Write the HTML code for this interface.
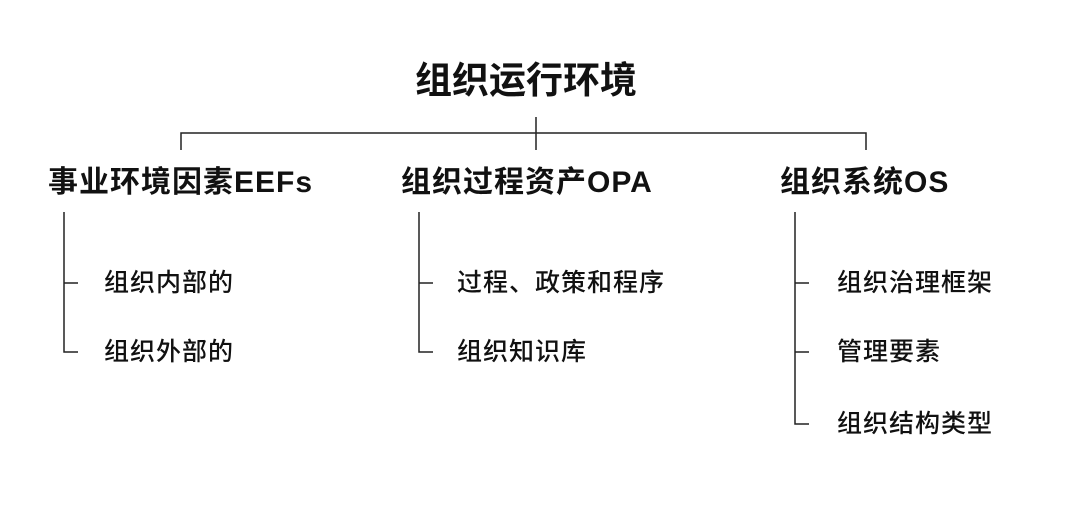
<!DOCTYPE html>
<html><head><meta charset="utf-8"><style>
html,body{margin:0;padding:0;background:#fff;width:1086px;height:519px;overflow:hidden;position:relative;font-family:"Liberation Sans","Noto Sans CJK SC",sans-serif;color:#111}
.t{position:absolute;white-space:nowrap;line-height:1}
.h{font-size:30px;font-weight:bold;letter-spacing:1px}
.i{font-size:25px;font-weight:500;letter-spacing:1px}
</style></head><body>
<svg width="1086" height="519" style="position:absolute;left:0;top:0" fill="none" stroke="#222" stroke-width="1.5">
<path d="M536 117V150M181 150V133H866V150"/>
<path d="M64 212V352H78M64 283H78"/>
<path d="M419 212V352H433M419 283H433"/>
<path d="M795 212V424H809M795 283H809M795 352H809"/>
</svg>
<div class="t" style="left:415px;top:62px;font-size:37px;font-weight:bold">组织运行环境</div>
<div class="t h" style="left:48px;top:168px">事业环境因素EEFs</div>
<div class="t h" style="left:401px;top:168px">组织过程资产OPA</div>
<div class="t h" style="left:780px;top:168px">组织系统OS</div>
<div class="t i" style="left:104px;top:271px">组织内部的</div>
<div class="t i" style="left:104px;top:340px">组织外部的</div>
<div class="t i" style="left:457px;top:271px">过程、政策和程序</div>
<div class="t i" style="left:457px;top:340px">组织知识库</div>
<div class="t i" style="left:837px;top:271px">组织治理框架</div>
<div class="t i" style="left:837px;top:340px">管理要素</div>
<div class="t i" style="left:837px;top:412px">组织结构类型</div>
</body></html>
